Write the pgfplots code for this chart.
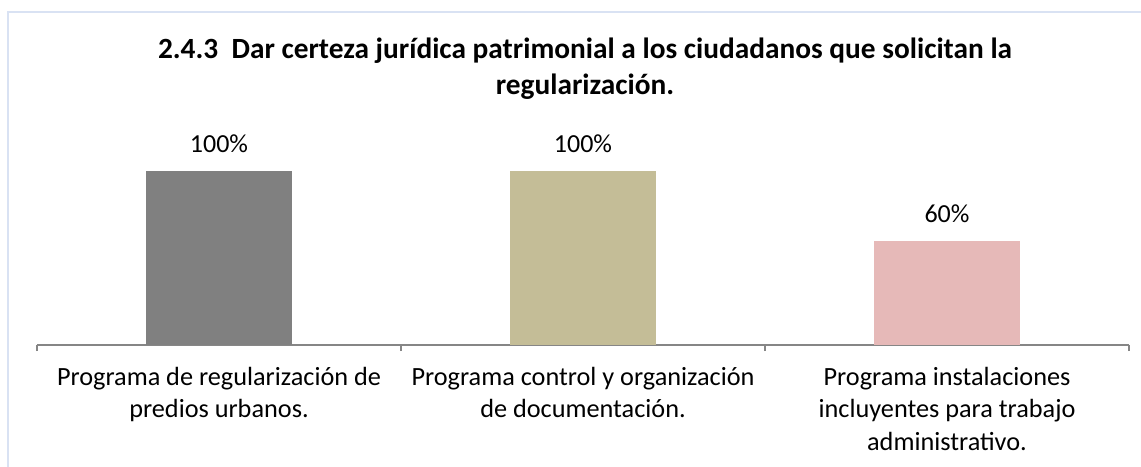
\documentclass[border=0pt]{standalone}
\usepackage{fontspec}
\setmainfont{Carlito}
\usepackage{pgfplots}
\pgfplotsset{compat=1.18}
\definecolor{bargray}{HTML}{808080}
\definecolor{barkhaki}{HTML}{C4BD97}
\definecolor{barpink}{HTML}{E6B9B8}
\definecolor{frameblue}{HTML}{D9E2F3}
\definecolor{axisgray}{HTML}{868686}
\begin{document}
\begin{tikzpicture}[x=0.75pt,y=0.75pt]
\draw[frameblue,line width=1.5pt] (8,-20) -- (8,455) -- (1200,455);
\node[font=\fontsize{22}{27}\selectfont\bfseries,anchor=base,inner sep=0pt] at (585,408)
  {2.4.3\ \ Dar certeza jurídica patrimonial a los ciudadanos que solicitan la};
\node[font=\fontsize{22}{27}\selectfont\bfseries,anchor=base,inner sep=0pt] at (585,372)
  {regularización.};
\begin{axis}[
  at={(27.75pt,91.5pt)}, anchor=south west,
  scale only axis,
  width=819pt, height=130.5pt,
  xmin=-0.5, xmax=2.5, ymin=0, ymax=100,
  axis y line=none,
  axis x line*=bottom,
  x axis line style={draw=axisgray,line width=0.9pt},
  ybar, bar width=109.5pt, bar shift=0pt,
  xtick={0,1,2},
  xticklabels={{Programa de regularización de\\predios urbanos.},
               {Programa control y organización\\de documentación.},
               {Programa instalaciones\\incluyentes para trabajo\\administrativo.}},
  major tick length=0pt,
  minor xtick={-0.5,0.5,1.5,2.5},
  minor tick length=4.5pt,
  tick align=outside,
  minor tick style={draw=axisgray,line width=0.9pt},
  xticklabel style={font=\fontsize{19.7}{24.5}\selectfont,align=center,anchor=north,yshift=-13pt},
  point meta=explicit symbolic,
  nodes near coords={\pgfplotspointmeta\%},
  nodes near coords style={font=\fontsize{19.5}{24}\selectfont,anchor=base,inner sep=0pt,yshift=13.5pt},
  clip=false,
]
\addplot[fill=bargray,draw=none] coordinates {(0,100) [100]};
\addplot[fill=barkhaki,draw=none] coordinates {(1,100) [100]};
\addplot[fill=barpink,draw=none] coordinates {(2,60) [60]};
\end{axis}
\pgfresetboundingbox
\path[use as bounding box] (0,0) rectangle (1141,467);
\end{tikzpicture}
\end{document}
